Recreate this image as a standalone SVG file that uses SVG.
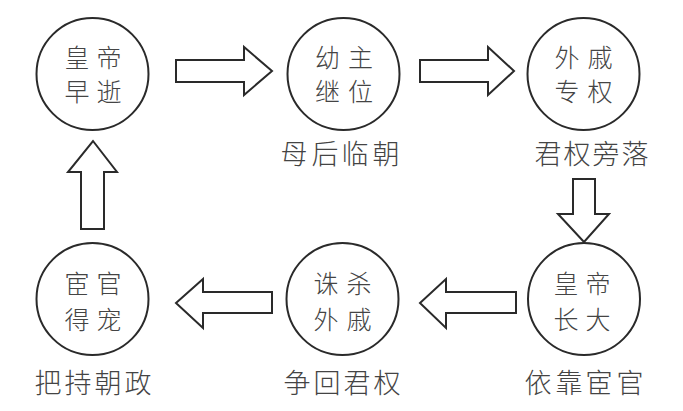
<svg xmlns="http://www.w3.org/2000/svg" width="683" height="411" viewBox="0 0 683 411">
<style>
.c{fill:#fff;stroke:#2a2a2a;stroke-width:2}
.a{fill:#fff;stroke:#2a2a2a;stroke-width:2;stroke-linejoin:miter}
.t{font-family:"Noto Sans CJK SC","Noto Sans CJK TC",sans-serif;font-size:25px;font-weight:300;fill:#444;text-anchor:middle}
.l{font-family:"Noto Sans CJK SC","Noto Sans CJK TC",sans-serif;font-size:27px;font-weight:300;fill:#444;text-anchor:middle}
</style>
<rect width="683" height="411" fill="#fff"/>
<g id="connectors">
<polygon class="a" points="176,60 244,60 244,47 272,71 244,95 244,82 176,82"/>
<polygon class="a" points="420,60 488,60 488,47 514,71 488,95 488,82 420,82"/>
<polygon class="a" points="573,179 595,179 595,214 609,214 584,242 558,214 573,214"/>
<polygon class="a" points="516,292 446,292 446,279 420,303 446,328 446,313 516,313"/>
<polygon class="a" points="272,292 203,292 203,279 176,303 203,328 203,313 272,313"/>
<polygon class="a" points="81,229 104,229 104,172 117,172 93,141 68,172 81,172"/>
</g>
<g id="n1">
<ellipse class="c" cx="92.5" cy="74" rx="56" ry="56"/>
<text class="t" x="77 109" y="67">皇帝</text>
<text class="t" x="77 109" y="100.5">早逝</text>
</g>
<g id="n2">
<ellipse class="c" cx="343.5" cy="74" rx="56" ry="56"/>
<text class="t" x="327.5 360.5" y="67">幼主</text>
<text class="t" x="327.5 360.5" y="100.5">继位</text>
<text class="l" x="294 325 355 386" y="164">母后临朝</text>
</g>
<g id="n3">
<ellipse class="c" cx="583.5" cy="74" rx="56" ry="56"/>
<text class="t" x="567 600" y="67">外戚</text>
<text class="t" x="567 600" y="100.5">专权</text>
<text class="l" x="548 577 606 635" y="164">君权旁落</text>
</g>
<g id="n4">
<ellipse class="c" cx="584" cy="299" rx="56" ry="56"/>
<text class="t" x="566 598" y="292.5">皇帝</text>
<text class="t" x="566 598" y="329">长大</text>
<text class="l" x="538 569 599 630" y="393">依靠宦官</text>
</g>
<g id="n5">
<ellipse class="c" cx="342.5" cy="299" rx="56" ry="56"/>
<text class="t" x="326 359" y="292.5">诛杀</text>
<text class="t" x="326 359" y="329">外戚</text>
<text class="l" x="297 327 357 387" y="393">争回君权</text>
</g>
<g id="n6">
<ellipse class="c" cx="92.5" cy="299" rx="56" ry="56"/>
<text class="t" x="77 109" y="292.5">宦官</text>
<text class="t" x="77 109" y="329">得宠</text>
<text class="l" x="48 78 108 138" y="393">把持朝政</text>
</g>
</svg>
